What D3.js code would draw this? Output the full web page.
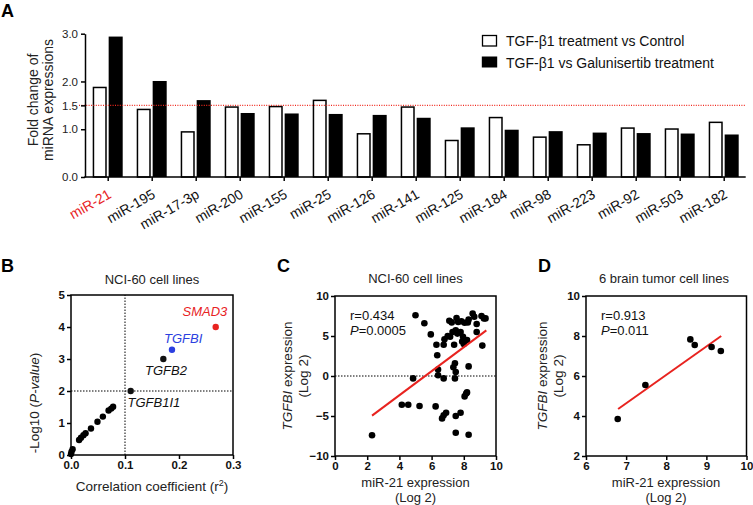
<!DOCTYPE html>
<html><head><meta charset="utf-8">
<script src="https://cdn.jsdelivr.net/npm/d3@7"></script>
<style>
body{margin:0;background:#fff;}
svg{display:block;font-family:"Liberation Sans",Arial,Helvetica,sans-serif;}
</style></head>
<body>
<svg id="c" width="753" height="505"></svg>
<script>
// ---------- Panel A data ----------
const mirnas = ["miR-21","miR-195","miR-17-3p","miR-200","miR-155","miR-25","miR-126","miR-141","miR-125","miR-184","miR-98","miR-223","miR-92","miR-503","miR-182"];
const tgfVsControl = [1.89,1.43,0.96,1.48,1.49,1.62,0.92,1.48,0.78,1.26,0.85,0.69,1.04,1.02,1.16];
const tgfVsGalunisertib = [2.94,2.01,1.61,1.34,1.33,1.32,1.30,1.24,1.04,0.99,0.96,0.93,0.92,0.91,0.89];
const seriesNames = ["TGF-β1 treatment vs Control","TGF-β1 vs Galunisertib treatment"];
const yTicksA = [0,1,1.5,2,3];
const thresholdA = 1.5;

// ---------- Panel B data ----------
const corrR2 = [0.000,0.001,0.003,0.015,0.0185,0.023,0.027,0.037,0.049,0.059,0.0696,0.0745,0.078,0.1105,0.171,0.187,0.268];
const negLogP = [0.03,0.10,0.18,0.47,0.54,0.62,0.68,0.83,1.04,1.20,1.39,1.45,1.51,2.0,3.0,3.29,4.0];
const geneLabels = [{name:"TGFB1I1",idx:13,color:"#111"},{name:"TGFB2",idx:14,color:"#111"},{name:"TGFBI",idx:15,color:"#2b3fe0"},{name:"SMAD3",idx:16,color:"#e8231f"}];
const xTicksB = [0,0.1,0.2,0.3];
const yTicksB = [0,1,2,3,4,5];

// ---------- Panel C data ----------
const mir21NCI = [2.3,4.15,4.55,4.85,5.0,5.25,5.55,5.95,6.25,6.3,6.35,6.4,6.4,6.65,6.75,6.75,6.8,6.75,6.9,7.0,7.1,7.15,7.25,7.3,7.35,7.4,7.45,7.45,7.5,7.5,7.5,7.5,7.55,7.6,7.65,7.8,7.8,7.85,7.9,7.95,8.0,8.05,8.05,8.15,8.2,8.2,8.25,8.3,8.3,8.3,8.55,8.65,8.8,8.8,9.1,9.15,9.25,9.35];
const tgfbiNCI = [-7.4,-3.6,-3.6,-0.3,7.6,-3.75,6.6,5.2,-3.8,3.9,2.6,0.8,0.1,-5.3,-4.9,-0.3,4.6,3.9,-4.6,5.0,6.9,4.9,6.7,5.5,1.1,3.9,1.6,-0.3,0.5,5.7,-5.0,-7.1,7.25,5.3,6.75,5.5,-4.6,6.85,4.3,4.9,4.0,6.65,-2.55,-2.2,-2.05,4.5,6.7,1.2,-7.35,7.05,7.8,7.4,5.5,6.5,7.5,3.8,7.2,7.2];
const fitC = {x:[2.3,9.4], y:[-4.95,5.7]};
const statsC = ["r=0.434","=0.0005"];
const xTicksC = [0,2,4,6,8,10];
const yTicksC = [-10,-5,0,5,10];

// ---------- Panel D data ----------
const mir21Brain = [6.79,7.48,8.60,8.71,9.13,9.36];
const tgfbiBrain = [3.85,5.55,7.83,7.55,7.45,7.25];
const fitD = {x:[6.8,9.37], y:[4.35,8.0]};
const statsD = ["r=0.913","=0.011"];
const xTicksD = [6,7,8,9,10];
const yTicksD = [2,4,6,8,10];

const RED = "#e8231f";
const svg = d3.select("#c");

// ================= Panel A =================
const yA = d3.scaleLinear().domain([0,3]).range([177,33.7]);
const xA = d3.scaleBand().domain(mirnas).range([85.7,745.7]).paddingInner(0).paddingOuter(0);
const xSub = d3.scaleBand().domain([0,1]).range([-15,15]).paddingInner(0.12);
const gA = svg.append("g");

mirnas.forEach((m,i)=>{
  const cx = xA(m)+xA.bandwidth()/2;
  [tgfVsControl[i], tgfVsGalunisertib[i]].forEach((v,s)=>{
    const x0 = cx + xSub(s), w = xSub.bandwidth();
    if(s===0){
      gA.append("rect").attr("x",x0+0.75).attr("y",yA(v)+0.75).attr("width",w-1.5).attr("height",yA(0)-yA(v)-0.75)
        .attr("fill","#fff").attr("stroke","#000").attr("stroke-width",1.5);
    } else {
      gA.append("rect").attr("x",x0).attr("y",yA(v)).attr("width",w).attr("height",yA(0)-yA(v)).attr("fill","#000");
    }
  });
});
gA.append("line").attr("x1",79).attr("x2",745.7).attr("y1",yA(thresholdA)).attr("y2",yA(thresholdA))
  .attr("stroke","#f0281e").attr("stroke-width",1.1).attr("stroke-dasharray","1,1.4");
const axA = gA.append("g").attr("transform","translate(85,0)")
  .call(d3.axisLeft(yA).tickValues(yTicksA).tickFormat(d3.format(".1f")).tickSize(4).tickSizeOuter(0));
axA.select(".domain").attr("stroke-width",1.5);
axA.selectAll(".tick line").attr("stroke-width",1.5);
axA.selectAll("text").attr("font-size",11.5).attr("fill","#222").attr("font-family","Liberation Sans, Arial");
const axX = gA.append("g").attr("transform","translate(0,177)")
  .call(d3.axisBottom(d3.scalePoint().domain(mirnas).range([xA(mirnas[0])+22, xA(mirnas[14])+22])).tickSize(4).tickSizeOuter(0));
axX.select(".domain").remove();
axX.selectAll(".tick line").attr("stroke-width",1.5);
axX.selectAll("text").remove();
gA.append("line").attr("x1",84.25).attr("x2",745.7).attr("y1",177).attr("y2",177).attr("stroke","#000").attr("stroke-width",1.5);
mirnas.forEach((m,i)=>{
  const cx = xA(m)+xA.bandwidth()/2;
  gA.append("text").attr("transform",`translate(${cx+4.5},197) rotate(-30)`)
    .attr("text-anchor","end").attr("font-size",14).attr("fill",i===0?RED:"#111").text(m);
});
const yt = gA.append("text").attr("transform","translate(38,100) rotate(-90)").attr("text-anchor","middle").attr("font-size",14).attr("fill","#222");
yt.append("tspan").attr("x",0).attr("y",0).text("Fold change of");
yt.append("tspan").attr("x",0).attr("y",14.5).text("miRNA expressions");
seriesNames.forEach((n,i)=>{
  const y0 = 35.5 + i*21.5;
  if(i===0) gA.append("rect").attr("x",482.5).attr("y",y0).attr("width",14).attr("height",10.5).attr("fill","#fff").attr("stroke","#000").attr("stroke-width",1.3);
  else gA.append("rect").attr("x",481.8).attr("y",y0-0.5).attr("width",15.4).attr("height",11).attr("fill","#000");
  gA.append("text").attr("x",506).attr("y",y0+10.5).attr("font-size",14).attr("fill","#111").text(n);
});
svg.append("text").attr("x",1).attr("y",17).attr("font-size",18).attr("font-weight","bold").text("A");

function framed(g, x, y, xt, yt, xf, yf){
  const [x0,x1] = x.range(), [y0,y1] = y.range();
  const ax = g.append("g").attr("transform",`translate(0,${y0})`).call(d3.axisBottom(x).tickValues(xt).tickFormat(xf).tickSize(4).tickPadding(2).tickSizeOuter(0));
  const ay = g.append("g").attr("transform",`translate(${x0},0)`).call(d3.axisLeft(y).tickValues(yt).tickFormat(yf).tickSize(4).tickPadding(2).tickSizeOuter(0));
  [ax,ay].forEach(a=>{
    a.select(".domain").remove();
    a.selectAll(".tick line").attr("stroke-width",1.5);
    a.selectAll("text").attr("font-size",11.5).attr("font-weight","bold").attr("fill","#111").attr("font-family","Liberation Sans, Arial");
  });
  g.append("rect").attr("x",x0).attr("y",y1).attr("width",x1-x0).attr("height",y0-y1).attr("fill","none").attr("stroke","#000").attr("stroke-width",1.5);
}

// ================= Panel B =================
const xB = d3.scaleLinear().domain([0,0.3]).range([71,233]);
const yB = d3.scaleLinear().domain([0,5]).range([455,295]);
const gB = svg.append("g");
gB.append("line").attr("x1",xB(0.1)).attr("x2",xB(0.1)).attr("y1",yB(0)).attr("y2",yB(5)).attr("stroke","#000").attr("stroke-width",1).attr("stroke-dasharray","1.5,1.5");
gB.append("line").attr("x1",xB(0)).attr("x2",xB(0.3)).attr("y1",yB(2)).attr("y2",yB(2)).attr("stroke","#000").attr("stroke-width",1).attr("stroke-dasharray","1.5,1.5");
framed(gB,xB,yB,xTicksB,yTicksB,d3.format(".1f"),d3.format("d"));
corrR2.forEach((r,i)=>{
  const lab = geneLabels.find(l=>l.idx===i);
  gB.append("circle").attr("cx",xB(r)).attr("cy",yB(negLogP[i])).attr("r",3.2).attr("fill",lab?lab.color:"#000");
});
const labPos = {TGFB1I1:[127.5,406.5], TGFB2:[145,375], TGFBI:[164,342.5], SMAD3:[182.5,315.5]};
geneLabels.forEach(l=>{
  gB.append("text").attr("x",labPos[l.name][0]).attr("y",labPos[l.name][1]).attr("font-size",13).attr("font-style","italic").attr("fill",l.color).text(l.name);
});
gB.append("text").attr("x",152).attr("y",284).attr("text-anchor","middle").attr("font-size",13).attr("fill","#222").text("NCI-60 cell lines");
const xtB = gB.append("text").attr("x",152).attr("y",491).attr("text-anchor","middle").attr("font-size",13.5).attr("fill","#222");
xtB.append("tspan").text("Correlation coefficient (r");
xtB.append("tspan").attr("font-size",9).attr("dy",-5).text("2");
xtB.append("tspan").attr("dy",5).text(")");
const ytB = gB.append("text").attr("transform","translate(38.5,403) rotate(-90)").attr("text-anchor","middle").attr("font-size",13.5).attr("fill","#222");
ytB.append("tspan").text("-Log10 (");
ytB.append("tspan").attr("font-style","italic").text("P-value");
ytB.append("tspan").text(")");
svg.append("text").attr("x",1).attr("y",272).attr("font-size",18).attr("font-weight","bold").text("B");

// ================= Panel C =================
const xC = d3.scaleLinear().domain([0,10]).range([335,496]);
const yC = d3.scaleLinear().domain([-10,10]).range([456,296]);
const gC = svg.append("g");
gC.append("line").attr("x1",xC(0)).attr("x2",xC(10)).attr("y1",yC(0)).attr("y2",yC(0)).attr("stroke","#000").attr("stroke-width",1).attr("stroke-dasharray","1.5,1.5");
framed(gC,xC,yC,xTicksC,yTicksC,d3.format("d"),d3.format("d"));
mir21NCI.forEach((v,i)=>{
  gC.append("circle").attr("cx",xC(v)).attr("cy",yC(tgfbiNCI[i])).attr("r",3.3).attr("fill","#000");
});
gC.append("line").attr("x1",xC(fitC.x[0])).attr("y1",yC(fitC.y[0])).attr("x2",xC(fitC.x[1])).attr("y2",yC(fitC.y[1])).attr("stroke",RED).attr("stroke-width",2);
gC.append("text").attr("x",350).attr("y",319.5).attr("font-size",13).attr("fill","#111").text(statsC[0]);
const pC = gC.append("text").attr("x",350).attr("y",334.5).attr("font-size",13).attr("fill","#111");
pC.append("tspan").attr("font-style","italic").text("P");
pC.append("tspan").text(statsC[1]);
gC.append("text").attr("x",415.5).attr("y",283).attr("text-anchor","middle").attr("font-size",13).attr("fill","#222").text("NCI-60 cell lines");
gC.append("text").attr("x",415.5).attr("y",487).attr("text-anchor","middle").attr("font-size",13).attr("fill","#222").text("miR-21 expression");
gC.append("text").attr("x",415.5).attr("y",501.5).attr("text-anchor","middle").attr("font-size",13).attr("fill","#222").text("(Log 2)");
const ytC = gC.append("text").attr("transform","translate(0,376) rotate(-90)").attr("text-anchor","middle").attr("font-size",13.5).attr("fill","#222");
ytC.append("tspan").attr("x",0).attr("y",292).attr("font-style","italic").text("TGFBI");
ytC.append("tspan").text(" expression");
ytC.append("tspan").attr("x",0).attr("y",308).text("(Log 2)");
svg.append("text").attr("x",277).attr("y",272).attr("font-size",18).attr("font-weight","bold").text("C");

// ================= Panel D =================
const xD = d3.scaleLinear().domain([6,10]).range([586,746.5]);
const yD = d3.scaleLinear().domain([2,10]).range([456,296]);
const gD = svg.append("g");
framed(gD,xD,yD,xTicksD,yTicksD,d3.format("d"),d3.format("d"));
gD.append("line").attr("x1",xD(fitD.x[0])).attr("y1",yD(fitD.y[0])).attr("x2",xD(fitD.x[1])).attr("y2",yD(fitD.y[1])).attr("stroke",RED).attr("stroke-width",2);
mir21Brain.forEach((v,i)=>{
  gD.append("circle").attr("cx",xD(v)).attr("cy",yD(tgfbiBrain[i])).attr("r",3.3).attr("fill","#000");
});
gD.append("text").attr("x",601).attr("y",319.5).attr("font-size",13).attr("fill","#111").text(statsD[0]);
const pD = gD.append("text").attr("x",601).attr("y",334.5).attr("font-size",13).attr("fill","#111");
pD.append("tspan").attr("font-style","italic").text("P");
pD.append("tspan").text(statsD[1]);
gD.append("text").attr("x",664).attr("y",283).attr("text-anchor","middle").attr("font-size",13).attr("fill","#222").text("6 brain tumor cell lines");
gD.append("text").attr("x",666).attr("y",487).attr("text-anchor","middle").attr("font-size",13).attr("fill","#222").text("miR-21 expression");
gD.append("text").attr("x",666).attr("y",501.5).attr("text-anchor","middle").attr("font-size",13).attr("fill","#222").text("(Log 2)");
const ytD = gD.append("text").attr("transform","translate(0,376) rotate(-90)").attr("text-anchor","middle").attr("font-size",13.5).attr("fill","#222");
ytD.append("tspan").attr("x",0).attr("y",547).attr("font-style","italic").text("TGFBI");
ytD.append("tspan").text(" expression");
ytD.append("tspan").attr("x",0).attr("y",563).text("(Log 2)");
svg.append("text").attr("x",538).attr("y",272).attr("font-size",18).attr("font-weight","bold").text("D");
</script>
</body></html>
